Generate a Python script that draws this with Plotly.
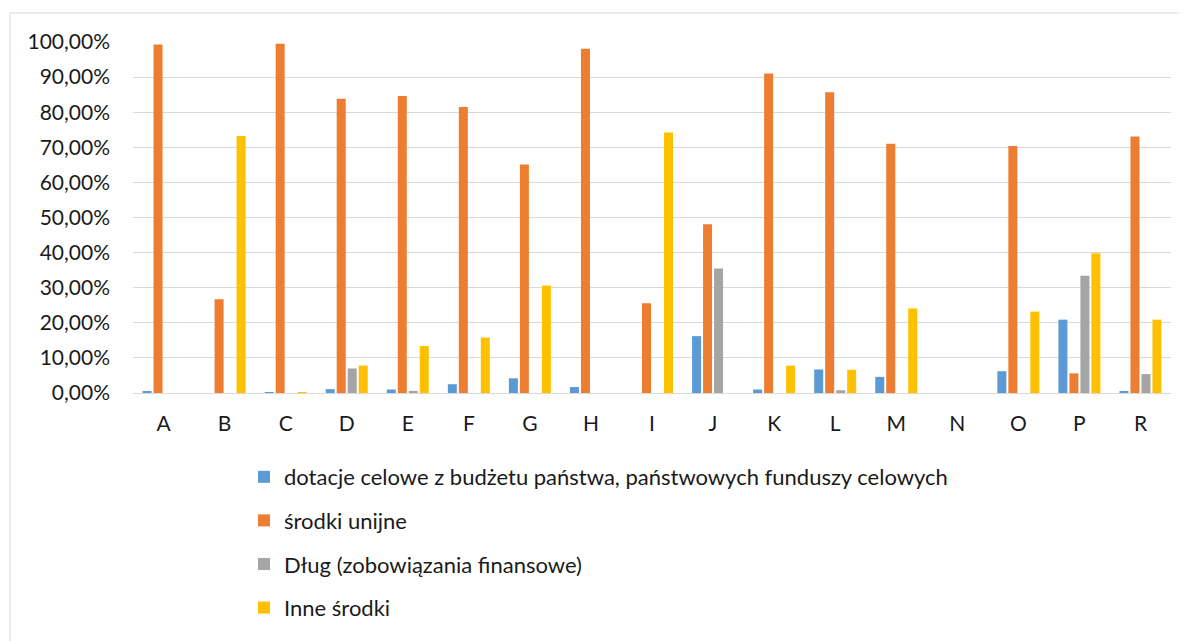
import plotly.graph_objects as go

# kategorie (oś X)
categories = ["A", "B", "C", "D", "E", "F", "G", "H", "I", "J", "K", "L", "M", "N", "O", "P", "R"]

# udziały źródeł finansowania (ułamki)
dotacje = [0.005, 0.0, 0.001, 0.011, 0.010, 0.025, 0.042, 0.017, 0.0, 0.162, 0.010, 0.067, 0.046, 0.0, 0.062, 0.209, 0.003]
unijne = [0.993, 0.267, 0.995, 0.838, 0.846, 0.815, 0.651, 0.981, 0.256, 0.481, 0.910, 0.857, 0.710, 0.0, 0.704, 0.056, 0.731]
dlug = [0.0, 0.0, 0.0, 0.070, 0.006, 0.0, 0.0, 0.0, 0.0, 0.355, 0.0, 0.008, 0.0, 0.0, 0.0, 0.334, 0.054]
inne = [0.0, 0.732, 0.002, 0.078, 0.134, 0.158, 0.306, 0.0, 0.742, 0.0, 0.078, 0.066, 0.241, 0.0, 0.232, 0.398, 0.209]

series_names = [
    "dotacje celowe z budżetu państwa, państwowych funduszy celowych",
    "środki unijne",
    "Dług (zobowiązania finansowe)",
    "Inne środki",
]
series_values = [dotacje, unijne, dlug, inne]
colors = ["#5B9BD5", "#ED7D31", "#A5A5A5", "#FFC000"]

y_ticks = [i / 10 for i in range(11)]

FONT = "Lato, Calibri, Carlito, sans-serif"
FS = 21

fig = go.Figure()
for i, (name, vals) in enumerate(zip(series_names, series_values)):
    fig.add_trace(go.Bar(
        x=categories,
        y=vals,
        name=name,
        marker=dict(color=colors[i], line=dict(width=0)),
        legendgroup=f"g{i}",
        hoverinfo="x+y+name",
    ))

# strona html ma 8px marginesu; figura wyższa niż okno, żeby legenda
# nie rozpychała dolnego marginesu (automargin)
OFF = 8
W, H = 1187 - 2 * OFF, 680
L, T = 133 - OFF, 42 - OFF
R = W - (1171 - OFF)
B = H - (393 - OFF)
pw, ph = W - L - R, H - T - B


def px_x(x):
    return (x - OFF - L) / pw


def px_y(y):
    return (H - B - (y - OFF)) / ph


# ramka wykresu (jak w Excelu)
fig.add_shape(
    type="rect", xref="paper", yref="paper",
    x0=px_x(10), x1=px_x(1210),
    y0=px_y(720), y1=px_y(13),
    line=dict(color="#D9D9D9", width=1), fillcolor="rgba(0,0,0,0)",
    layer="below",
)

fig.update_layout(
    width=W, height=H,
    margin=dict(l=L, r=R, t=T, b=B),
    paper_bgcolor="white",
    plot_bgcolor="white",
    separators=", ",
    barmode="group",
    bargap=0.28,
    bargroupgap=0.18,
    font=dict(family=FONT, size=FS, color="#1a1a1a"),
    showlegend=True,
    legend=dict(
        orientation="v",
        x=px_x(244), xanchor="left",
        y=px_y(456), yanchor="top",
        tracegroupgap=12,
        font=dict(family=FONT, size=22, color="#1a1a1a"),
        bgcolor="rgba(0,0,0,0)",
    ),
)
fig.update_xaxes(
    type="category",
    showgrid=False,
    showline=True, linecolor="#D9D9D9", linewidth=1,
    ticks="", ticklabelstandoff=12,
    tickfont=dict(size=FS),
)
fig.update_yaxes(
    range=[0, 1.0],
    tickmode="array", tickvals=y_ticks,
    tickformat=".2%",
    showgrid=True, gridcolor="#D9D9D9", gridwidth=1,
    zeroline=False, showline=False,
    ticks="", ticklabelstandoff=22,
    tickfont=dict(size=FS),
)

fig.write_html("out.html")
